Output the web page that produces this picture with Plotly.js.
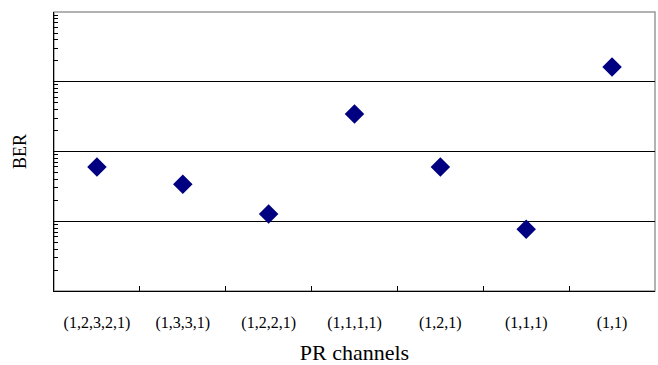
<!DOCTYPE html>
<html><head><meta charset="utf-8">
<script src="https://cdn.plot.ly/plotly-3.0.1.min.js"></script>
<style>html,body{margin:0;padding:0;background:#fff}</style>
</head><body><div id="chart" style="width:658px;height:365px"></div>
<script>
const channels = ["(1,2,3,2,1)","(1,3,3,1)","(1,2,2,1)","(1,1,1,1)","(1,2,1)","(1,1,1)","(1,1)"];
const ber = [6.0e-4, 3.4e-4, 1.27e-4, 3.45e-3, 6.0e-4, 7.7e-5, 1.63e-2];

const trace = {
  x: channels, y: ber, type: 'scatter', mode: 'markers',
  marker: {symbol: 'diamond', size: 15, color: '#000080'},
  hoverinfo: 'skip', cliponaxis: false
};
const layout = {
  width: 658, height: 365,
  margin: {l: 54, r: 3, t: 12, b: 74},
  paper_bgcolor: '#fff', plot_bgcolor: '#fff',
  showlegend: false,
  font: {family: '"Liberation Serif", serif', color: '#000'},
  xaxis: {
    type: 'category', range: [-0.5, 6.5],
    tickson: 'boundaries', ticks: 'inside', ticklen: 5, tickcolor: '#000',
    showline: true, linecolor: '#000', linewidth: 1,
    showgrid: false, zeroline: false,
    tickfont: {size: 16}, ticklabelstandoff: 17,
    title: {text: 'PR channels', font: {size: 22}, standoff: 14}
  },
  yaxis: {
    type: 'log', range: [-5, -1], dtick: 1,
    showticklabels: false, ticks: 'inside', ticklen: 5, tickcolor: '#000',
    minor: {ticks: 'inside', ticklen: 4, dtick: 'D1', tickcolor: '#000', showgrid: false},
    showline: true, linecolor: '#000', linewidth: 1,
    showgrid: true, gridcolor: '#000', gridwidth: 1, zeroline: false,
    title: {text: 'BER', font: {size: 18}, standoff: 21}
  },
  shapes: [
    {type: 'rect', xref: 'paper', yref: 'paper', x0: 0, x1: 1, y0: 0, y1: 1,
     line: {color: '#999', width: 1.5}, layer: 'below'}
  ]
};
Plotly.newPlot('chart', [trace], layout, {displayModeBar: false, staticPlot: true});
</script></body></html>
